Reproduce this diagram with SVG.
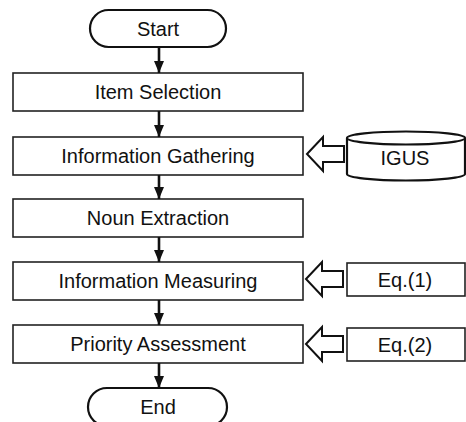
<svg xmlns="http://www.w3.org/2000/svg" width="466" height="422" viewBox="0 0 466 422">
<defs>
<style>
.box{fill:#fff;stroke:#222;stroke-width:1.6}
.term{fill:#fff;stroke:#111;stroke-width:2.2}
.lbl{font-family:"Liberation Sans",Arial,sans-serif;font-size:20px;fill:#111;text-anchor:middle}
.flow{stroke:#111;stroke-width:2.6;fill:none}
.hollow{fill:#fff;stroke:#111;stroke-width:2;stroke-linejoin:miter}
</style>
<marker id="ah" viewBox="0 0 12 10" refX="12" refY="5" markerWidth="12" markerHeight="10" markerUnits="userSpaceOnUse" orient="auto">
<path d="M0,0 L12,5 L0,10 Z" fill="#111"/>
</marker>
<path id="harrow" d="M0,0 L16,-17 L16,-8 L37,-8 L37,8 L16,8 L16,17 Z"/>
</defs>
<rect width="466" height="422" fill="#fff"/>

<g id="start"><rect class="term" x="90" y="10" width="136" height="37" rx="18.5"/><text class="lbl" x="158" y="36">Start</text></g>
<g id="item-selection"><rect class="box" x="13" y="73" width="290" height="38"/><text class="lbl" x="158" y="99">Item Selection</text></g>
<g id="information-gathering"><rect class="box" x="13" y="137" width="290" height="38"/><text class="lbl" x="158" y="163">Information Gathering</text></g>
<g id="noun-extraction"><rect class="box" x="13" y="199" width="290" height="38"/><text class="lbl" x="158" y="225">Noun Extraction</text></g>
<g id="information-measuring"><rect class="box" x="13" y="262" width="290" height="38"/><text class="lbl" x="158" y="288">Information Measuring</text></g>
<g id="priority-assessment"><rect class="box" x="13" y="325" width="290" height="38"/><text class="lbl" x="158" y="351">Priority Assessment</text></g>
<g id="end"><rect class="term" x="88" y="388" width="139" height="38" rx="19"/><text class="lbl" x="158" y="414">End</text></g>

<g id="igus">
<path class="term" d="M347,138 L347,174 A59,6.5 0 0 0 465,174 L465,138"/>
<ellipse class="term" cx="406" cy="138" rx="59" ry="6.5"/>
<text class="lbl" x="405" y="165">IGUS</text>
</g>
<g id="eq1"><rect class="box" x="347" y="263" width="118" height="33"/><text class="lbl" x="405" y="287">Eq.(1)</text></g>
<g id="eq2"><rect class="box" x="347" y="328" width="118" height="33"/><text class="lbl" x="405" y="352">Eq.(2)</text></g>

<g id="connectors">
<line class="flow" x1="159" y1="47" x2="159" y2="73" marker-end="url(#ah)"/>
<line class="flow" x1="159" y1="111" x2="159" y2="137" marker-end="url(#ah)"/>
<line class="flow" x1="159" y1="175" x2="159" y2="199" marker-end="url(#ah)"/>
<line class="flow" x1="159" y1="237" x2="159" y2="262" marker-end="url(#ah)"/>
<line class="flow" x1="159" y1="300" x2="159" y2="325" marker-end="url(#ah)"/>
<line class="flow" x1="159" y1="363" x2="159" y2="388" marker-end="url(#ah)"/>
<use href="#harrow" class="hollow" transform="translate(307,154)"/>
<use href="#harrow" class="hollow" transform="translate(306,279)"/>
<use href="#harrow" class="hollow" transform="translate(306,344)"/>
</g>
</svg>
